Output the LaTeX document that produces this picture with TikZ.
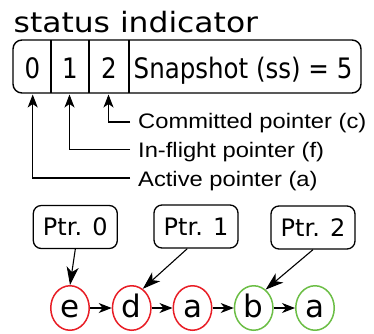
\documentclass[tikz,border=0pt]{standalone}
\usepackage{fontspec}
\setmainfont{DejaVu Sans}
\newfontfamily\helv{Liberation Sans}
\usetikzlibrary{arrows.meta,shapes.geometric}
\definecolor{cred}{RGB}{232,30,38}
\definecolor{cgreen}{RGB}{108,190,70}
\tikzset{
  boxtxt/.style={inner sep=0pt, anchor=base},
  lbl/.style={inner sep=0pt, anchor=base west, font=\helv\fontsize{21}{21}\selectfont},
  conn/.style={line width=1.1pt, -{Stealth[length=13pt,width=10pt,inset=3.5pt]}},
  ptrbox/.style={draw, line width=1.3pt, rounded corners=8pt, minimum width=84pt, minimum height=43pt, inner sep=0pt, font=\fontsize{24}{24}\selectfont},
  elem/.style={ellipse, draw, line width=1.5pt, minimum width=38.5pt, minimum height=44.5pt, inner sep=0pt, text height=18pt, text depth=0pt, font=\fontsize{31}{31}\selectfont},
  redel/.style={elem, draw=cred},
  greenel/.style={elem, draw=cgreen},
  ptrarrow/.style={line width=1.1pt, -{Stealth[length=18pt,width=12pt,inset=5pt]}},
  chain/.style={line width=1.1pt, -{Stealth[length=13pt,width=10pt,inset=4pt]}},
}
\begin{document}
\begin{tikzpicture}[x=1pt,y=-1pt]
\useasboundingbox (0,0) rectangle (374,333);
% title
\node[inner sep=0pt, anchor=base west] (title) at (13.5,32) {\scalebox{1.12}[1]{\fontsize{28}{28}\selectfont status indicator}};
% status box
\node[draw, line width=1.4pt, rounded corners=9pt, minimum width=348pt, minimum height=53pt, inner sep=0pt] (status) at (187,66.5) {};
\draw[line width=2.4pt] (51,40) -- (51,93) (89,40) -- (89,93) (129,40) -- (129,93);
\node[boxtxt] (d0) at (32.5,78) {\scalebox{1}[1.15]{\fontsize{24.5}{24.5}\selectfont 0}};
\node[boxtxt] (d1) at (70,78) {\scalebox{1}[1.15]{\fontsize{24.5}{24.5}\selectfont 1}};
\node[boxtxt] (d2) at (109,78) {\scalebox{1}[1.15]{\fontsize{24.5}{24.5}\selectfont 2}};
\node[inner sep=0pt, anchor=base west] (snap) at (133.5,78) {\scalebox{1}[1.15]{\fontsize{24.5}{24.5}\selectfont Snapshot (ss) = 5}};
% labels
\node[lbl] (lc) at (138,128) {\scalebox{1.13}[1]{Committed pointer (c)}};
\node[lbl] (lf) at (138,157) {\scalebox{1.13}[1]{In-flight pointer (f)}};
\node[lbl] (la) at (138,186) {\scalebox{1.13}[1]{Active pointer (a)}};
\coordinate (ec) at (130,122);
\coordinate (ef) at (130,149.5);
\coordinate (ea) at (130,178);
\coordinate (t2) at (108.5,94.5);
\coordinate (t1) at (69.5,94.5);
\coordinate (t0) at (32.7,94.5);
\draw[conn] (ec) -| (t2);
\draw[conn] (ef) -| (t1);
\draw[conn] (ea) -| (t0);
% pointers
\node[ptrbox] (p0) at (75.3,227) {Ptr. 0};
\node[ptrbox] (p1) at (196,226.5) {Ptr. 1};
\node[ptrbox] (p2) at (313,227.5) {Ptr. 2};
% chain
\node[redel] (e) at (70,308) {e};
\node[redel] (d) at (131.7,308) {d};
\node[redel] (a1) at (192.5,308) {a};
\node[greenel] (b) at (253.7,308) {b};
\node[greenel] (a2) at (315,308) {a};
\draw[chain] (e) -- (d);
\draw[chain] (d) -- (a1);
\draw[chain] (a1) -- (b);
\draw[chain] (b) -- (a2);
\draw[ptrarrow] (p0.south) -- (e.north);
\draw[ptrarrow] ([xshift=-8.7pt]p1.south) -- (d.60);
\draw[ptrarrow] (p2.south) -- (b.57);
\end{tikzpicture}
\end{document}
